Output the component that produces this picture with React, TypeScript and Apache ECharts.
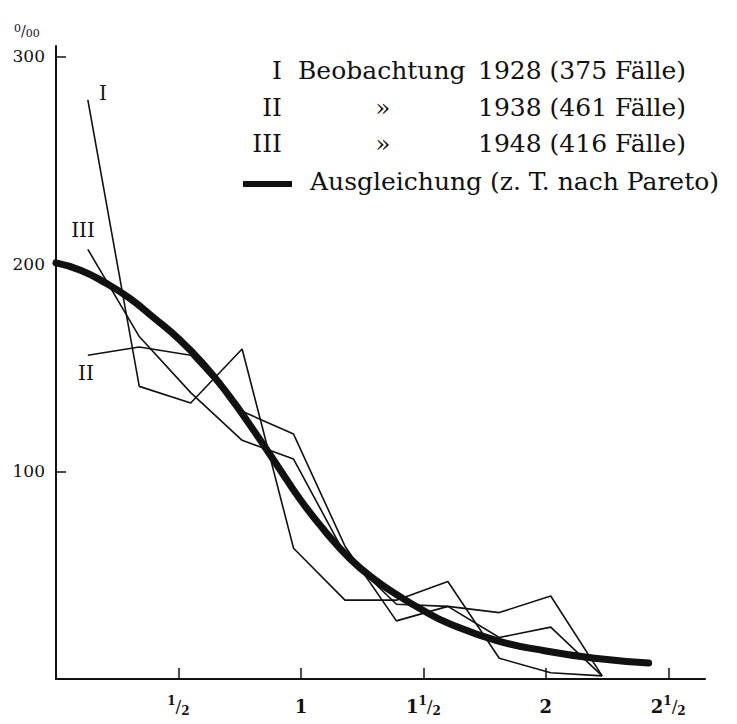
import React, { useEffect, useRef } from "react";
import * as echarts from "echarts";

// x positions of the observed classes (axis units)
const obsX = [0.13, 0.34, 0.55, 0.76, 0.97, 1.18, 1.39, 1.6, 1.81, 2.02, 2.23];
// per-mille values
const serI = [279, 141, 133, 159, 63, 38, 38, 47, 10, 3, 1.5];
const serII = [156, 160, 156, 129, 118, 64, 28, 35, 20, 25, 1.5];
const serIII = [207, 165, 138, 115, 106, 60, 36, 35, 32, 40, 1.5];
// smoothed curve (Ausgleichung)
const fitX = [0, 0.1, 0.2, 0.3, 0.4, 0.5, 0.6, 0.7, 0.8, 0.9, 1.0, 1.1, 1.2, 1.3, 1.4, 1.5, 1.6, 1.8, 2.0, 2.2, 2.42];
const fitY = [200.5, 197, 191, 183.5, 174, 164, 152, 137.5, 121, 103.5, 86, 71, 58, 48, 40, 33, 27, 18.5, 13.5, 10, 7.7];

const xTicks = [0.5, 1, 1.5, 2, 2.5];
const xTickLabels = ["{s|1}{m|/}{b|2}", "{n|1}", "{n|1}{s|1}{m|/}{b|2}", "{n|2}", "{n|2}{s|1}{m|/}{b|2}"];
const yTicks = [100, 200, 300];

const legendRows = [
  { num: "I", mid: "Beobachtung", rest: "1928 (375 Fälle)" },
  { num: "II", mid: "»", rest: "1938 (461 Fälle)" },
  { num: "III", mid: "»", rest: "1948 (416 Fälle)" },
];
const fitLabel = "Ausgleichung (z. T. nach Pareto)";
const seriesNames = ["I", "II", "III"];

const FONT = "'DejaVu Serif', serif";
const INK = "#111";

export default function App() {
  const ref = useRef<HTMLDivElement>(null);
  useEffect(() => {
    if (!ref.current) return;
    const chart = echarts.init(ref.current, undefined, { renderer: "svg" });
    const pair = (xs: number[], ys: number[]) => xs.map((x, i) => [x, ys[i]]);
    const obsSeries = [serI, serII, serIII].map((d, i) => ({
      name: seriesNames[i],
      type: "line",
      data: pair(obsX, d),
      symbol: "none",
      lineStyle: { color: INK, width: 1.6 },
      z: 3,
    }));
    const rowYs = [70, 107, 143];
    const graphics: any[] = [];
    legendRows.forEach((r, i) => {
      graphics.push({
        type: "text",
        x: 282,
        y: rowYs[i],
        style: { text: r.num, font: `25px ${FONT}`, fill: INK, align: "right", verticalAlign: "middle" },
      });
      graphics.push({
        type: "text",
        x: i === 0 ? 298 : 383,
        y: rowYs[i],
        style: { text: r.mid, font: `25px ${FONT}`, fill: INK, align: i === 0 ? "left" : "center", verticalAlign: "middle" },
      });
      graphics.push({
        type: "text",
        x: 478,
        y: rowYs[i],
        style: { text: r.rest, font: `25px ${FONT}`, fill: INK, align: "left", verticalAlign: "middle" },
      });
    });
    graphics.push({
      type: "line",
      shape: { x1: 243, y1: 184, x2: 292, y2: 184 },
      style: { stroke: INK, lineWidth: 6 },
    });
    graphics.push({
      type: "text",
      x: 310,
      y: 181,
      style: { text: fitLabel, font: `25px ${FONT}`, fill: INK, align: "left", verticalAlign: "middle" },
    });
    // series labels near line starts
    graphics.push({ type: "text", x: 103, y: 93, style: { text: "I", font: `20px ${FONT}`, fill: INK, align: "center", verticalAlign: "middle" } });
    graphics.push({ type: "text", x: 83, y: 230, style: { text: "III", font: `20px ${FONT}`, fill: INK, align: "center", verticalAlign: "middle" } });
    graphics.push({ type: "text", x: 86, y: 373, style: { text: "II", font: `20px ${FONT}`, fill: INK, align: "center", verticalAlign: "middle" } });
    // unit label
    graphics.push({
      type: "text",
      x: 14,
      y: 31,
      style: {
        text: "{s|0}{m|/}{b|00}",
        font: `15px ${FONT}`,
        fill: INK,
        verticalAlign: "middle",
        rich: {
          s: { fontSize: 11, fontFamily: FONT, fill: INK, verticalAlign: "top", lineHeight: 16 },
          m: { fontSize: 14, fontFamily: FONT, fill: INK, lineHeight: 16 },
          b: { fontSize: 11, fontFamily: FONT, fill: INK, verticalAlign: "bottom", lineHeight: 16 },
        },
      },
    });

    chart.setOption({
      animation: false,
      backgroundColor: "#fff",
      grid: { left: 56, right: 32, top: 46, bottom: 45 },
      xAxis: {
        type: "value",
        min: 0,
        max: 2.65,
        interval: 0.5,
        splitLine: { show: false },
        axisLine: { show: true, lineStyle: { color: INK, width: 2 } },
        axisTick: { show: true, inside: true, length: 11, customValues: xTicks, lineStyle: { color: INK, width: 1.5 } },
        axisLabel: {
          customValues: xTicks,
          margin: 16,
          formatter: (v: number) => {
            const i = xTicks.findIndex((t) => Math.abs(t - v) < 1e-6);
            return i >= 0 ? xTickLabels[i] : "";
          },
          rich: {
            n: { fontSize: 18, fontFamily: FONT, fontWeight: "bold", color: INK, lineHeight: 22 },
            s: { fontSize: 12, fontFamily: FONT, fontWeight: "bold", color: INK, verticalAlign: "top", lineHeight: 22 },
            m: { fontSize: 17, fontFamily: FONT, color: INK, lineHeight: 22 },
            b: { fontSize: 12, fontFamily: FONT, fontWeight: "bold", color: INK, verticalAlign: "bottom", lineHeight: 22 },
          },
        },
      },
      yAxis: {
        type: "value",
        min: 0,
        max: 305,
        interval: 100,
        splitLine: { show: false },
        axisLine: { show: true, lineStyle: { color: INK, width: 2 } },
        axisTick: { show: true, inside: true, length: 10, customValues: yTicks, lineStyle: { color: INK, width: 1.5 } },
        axisLabel: {
          customValues: yTicks,
          margin: 11,
          fontSize: 17,
          fontFamily: FONT,
          color: INK,
        },
      },
      graphic: graphics,
      series: [
        ...obsSeries,
        {
          name: "Ausgleichung",
          type: "line",
          data: pair(fitX, fitY),
          smooth: true,
          symbol: "none",
          lineStyle: { color: INK, width: 7, cap: "round" },
          z: 4,
        },
      ],
    });
    return () => chart.dispose();
  }, []);
  return <div ref={ref} style={{ width: 737, height: 724, position: "absolute", left: 0, top: 0 }} />;
}
